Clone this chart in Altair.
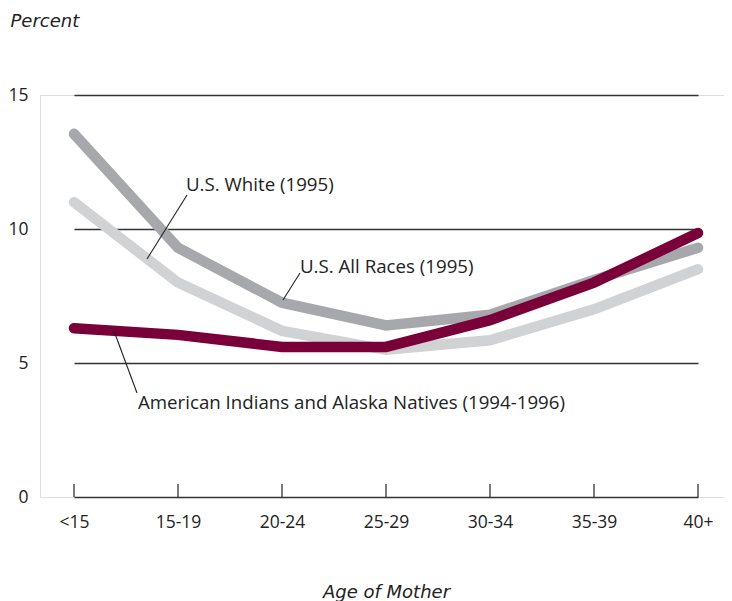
import altair as alt
import pandas as pd

ages = ["<15", "15-19", "20-24", "25-29", "30-34", "35-39", "40+"]
us_white = [11.0, 8.0, 6.2, 5.5, 5.85, 7.0, 8.5]
us_all = [13.55, 9.3, 7.25, 6.4, 6.8, 8.1, 9.3]
aian = [6.3, 6.05, 5.6, 5.6, 6.6, 8.0, 9.85]

series_names = ["U.S. White (1995)", "U.S. All Races (1995)",
                "American Indians and Alaska Natives (1994-1996)"]
series_values = [us_white, us_all, aian]
series_colors = ["#d1d2d4", "#a7a8ab", "#7a0039"]

rows = []
for order, (name, vals) in enumerate(zip(series_names, series_values)):
    for a, v in zip(ages, vals):
        rows.append({"age": a, "value": v, "series": name, "order": order})
df = pd.DataFrame(rows)

W, H = 684, 402
FONT = "Open Sans"
TFONT = "DejaVu Sans"

x_scale = alt.Scale(type="point", range=[34, 658], padding=0)
x_axis = alt.Axis(title="Age of Mother", domain=False, ticks=False,
                  labelAngle=0, labelFont=FONT, labelFontSize=17.5,
                  labelColor="#222", labelPadding=16,
                  titleFont=TFONT, titleFontSize=18, titleFontStyle="italic",
                  titleFontWeight="normal", titleColor="#222",
                  titleX=346, titleY=100, titleBaseline="alphabetic")
x_enc = alt.X("age:N", sort=ages, scale=x_scale, axis=x_axis)
y_enc = alt.Y("value:Q", scale=alt.Scale(domain=[0, 15], nice=False, zero=True),
              axis=alt.Axis(title="Percent", values=[0, 5, 10, 15], grid=True,
                            gridColor="#333", gridWidth=1.3, domain=False, ticks=False,
                            labelFont=FONT, labelFontSize=17.5, labelColor="#222",
                            labelPadding=12,
                            titleFont=TFONT, titleFontSize=18, titleFontStyle="italic",
                            titleFontWeight="normal", titleColor="#222",
                            titleAngle=0, titleAlign="left", titleBaseline="alphabetic",
                            titleX=-30, titleY=-69))

lines = alt.Chart(df).mark_line(strokeWidth=10.5, strokeCap="round", strokeJoin="miter").encode(
    x=x_enc, y=y_enc,
    color=alt.Color("series:N", sort=series_names,
                    scale=alt.Scale(domain=series_names, range=series_colors), legend=None),
    order=alt.Order("order:Q"),
    detail="series:N",
)

tick_df = pd.DataFrame({"age": ages})
ticks = alt.Chart(tick_df).mark_rule(color="#333", strokeWidth=1.3).encode(
    x=x_enc,
    y=alt.value(H - 13), y2=alt.value(H),
)

ann_text = ["U.S. White (1995)", "U.S. All Races (1995)",
            "American Indians and Alaska Natives (1994-1996)"]
ann_x = [146, 260, 98]
ann_y = [90, 172, 308]
leader_x = [147, 260, 74]
leader_y = [100, 178, 236]
leader_x2 = [107, 243, 97]
leader_y2 = [164, 205, 298]

texts = []
rules = []
for t, tx, ty, lx, ly, lx2, ly2 in zip(ann_text, ann_x, ann_y, leader_x, leader_y, leader_x2, leader_y2):
    texts.append(alt.Chart(pd.DataFrame({"t": [t]})).mark_text(
        align="left", baseline="middle", font=FONT, fontSize=18.7, color="#222").encode(
        text="t:N", x=alt.value(tx), y=alt.value(ty)))
    rules.append(alt.Chart(pd.DataFrame({"t": [t]})).mark_rule(color="#222", strokeWidth=1.1).encode(
        x=alt.value(lx), y=alt.value(ly), x2=alt.value(lx2), y2=alt.value(ly2)))

chart = alt.layer(ticks, lines, *rules, *texts).properties(
    width=W, height=H,
    autosize=alt.AutoSizeParams(type="none"),
    padding={"left": 32, "top": 87, "right": 0, "bottom": 106},
).configure_view(stroke=None).configure(background="white")

chart.save("out.html", embed_options={"renderer": "svg", "actions": False})
